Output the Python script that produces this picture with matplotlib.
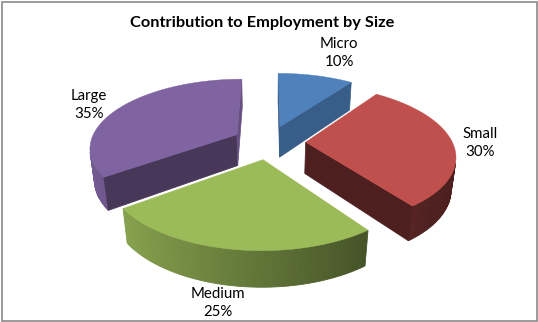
import numpy as np
import matplotlib
matplotlib.use("Agg")
import matplotlib.pyplot as plt
from matplotlib.patches import Polygon, Rectangle
from matplotlib.colors import to_rgb

# employment share by enterprise size
sizes = ["Micro", "Small", "Medium", "Large"]
shares = [10, 30, 25, 35]
top_colors = ["#4F81BD", "#C0504D", "#9BBB59", "#8064A2"]
label_xy = [(339, 53), (480, 143), (218, 303), (89, 105)]

# view of the tilted pie, in pixel space
cx, cy = 269, 173.5
scale = 143.0
tilt = np.radians(30)
cam = 5.0
explode = 0.25
thick = 0.247
cam_pos = np.array([0.0, -cam * np.cos(tilt), cam * np.sin(tilt)])


def project(x, y, z):
    d = cam + y * np.cos(tilt) - z * np.sin(tilt)
    up = y * np.sin(tilt) + z * np.cos(tilt)
    k = cam / d
    return cx + scale * x * k, cy - scale * up * k


def shade(color, f):
    r, g, b = to_rgb(color)
    f = min(max(f, 0.0), 1.0)
    return (r * f, g * f, b * f)


def visible(normal, point):
    return np.dot(normal, cam_pos - np.asarray(point)) > 0


def add_face(ax, pts3, color, lw=0.5):
    xs, ys = project(*np.array(pts3).T)
    ax.add_patch(Polygon(np.column_stack([xs, ys]), closed=True,
                         facecolor=color, edgecolor=color, lw=lw))


fig = plt.figure(figsize=(5.38, 3.22), dpi=100)
ax = fig.add_axes([0, 0, 1, 1])
ax.set_xlim(0, 538)
ax.set_ylim(322, 0)
ax.axis("off")

total = sum(shares)
bounds = np.concatenate([[0], np.cumsum(shares)]) / total * 2 * np.pi

slices = []
for i in range(len(shares)):
    a0, a1 = bounds[i], bounds[i + 1]
    mid = (a0 + a1) / 2
    ox, oy = explode * np.sin(mid), explode * np.cos(mid)
    slices.append((oy, i, a0, a1, ox))

# far slices first
for oy, i, a0, a1, ox in sorted(slices, reverse=True):
    base = top_colors[i]
    th = np.linspace(a0, a1, 80)
    rx = ox + np.sin(th)
    ry = oy + np.cos(th)

    # outer rim
    for j in range(len(th) - 1):
        tm = (th[j] + th[j + 1]) / 2
        n = np.array([np.sin(tm), np.cos(tm), 0])
        p = [ox + np.sin(tm), oy + np.cos(tm), thick / 2]
        if not visible(n, p):
            continue
        f = max(0.4, 0.62 - 0.3 * np.sin(tm))
        quad = [(rx[j], ry[j], 0), (rx[j + 1], ry[j + 1], 0),
                (rx[j + 1], ry[j + 1], thick), (rx[j], ry[j], thick)]
        add_face(ax, quad, shade(base, f), lw=0.6)

    # cut faces toward the centre
    for a, n in ((a0, np.array([-np.cos(a0), np.sin(a0), 0])),
                 (a1, np.array([np.cos(a1), -np.sin(a1), 0]))):
        ex, ey = ox + np.sin(a), oy + np.cos(a)
        p = [(ox + ex) / 2, (oy + ey) / 2, thick / 2]
        if not visible(n, p):
            continue
        f = min(0.8, 0.9 + 0.2 * n[0] + 0.575 * n[1])
        quad = [(ox, oy, 0), (ex, ey, 0), (ex, ey, thick), (ox, oy, thick)]
        add_face(ax, quad, shade(base, f))

    # top
    top = [(ox, oy, thick)] + [(x, y, thick) for x, y in zip(rx, ry)]
    add_face(ax, top, base, lw=0.3)

for name, v, (lx, ly) in zip(sizes, shares, label_xy):
    ax.text(lx, ly, f"{name}\n{v / total:.0%}", ha="center", va="center",
            fontsize=10.8, family="Lato", color="black", linespacing=1.4)

ax.text(262, 23, "Contribution to Employment by Size", ha="center",
        va="center", fontsize=11.8, family="Lato", fontweight="bold")

fig.patches.append(Rectangle((1.5, 1.5), 535, 319, transform=None,
                             fill=False, edgecolor="#8a8a8a", lw=1.2))

fig.savefig("out.png", dpi=100)
